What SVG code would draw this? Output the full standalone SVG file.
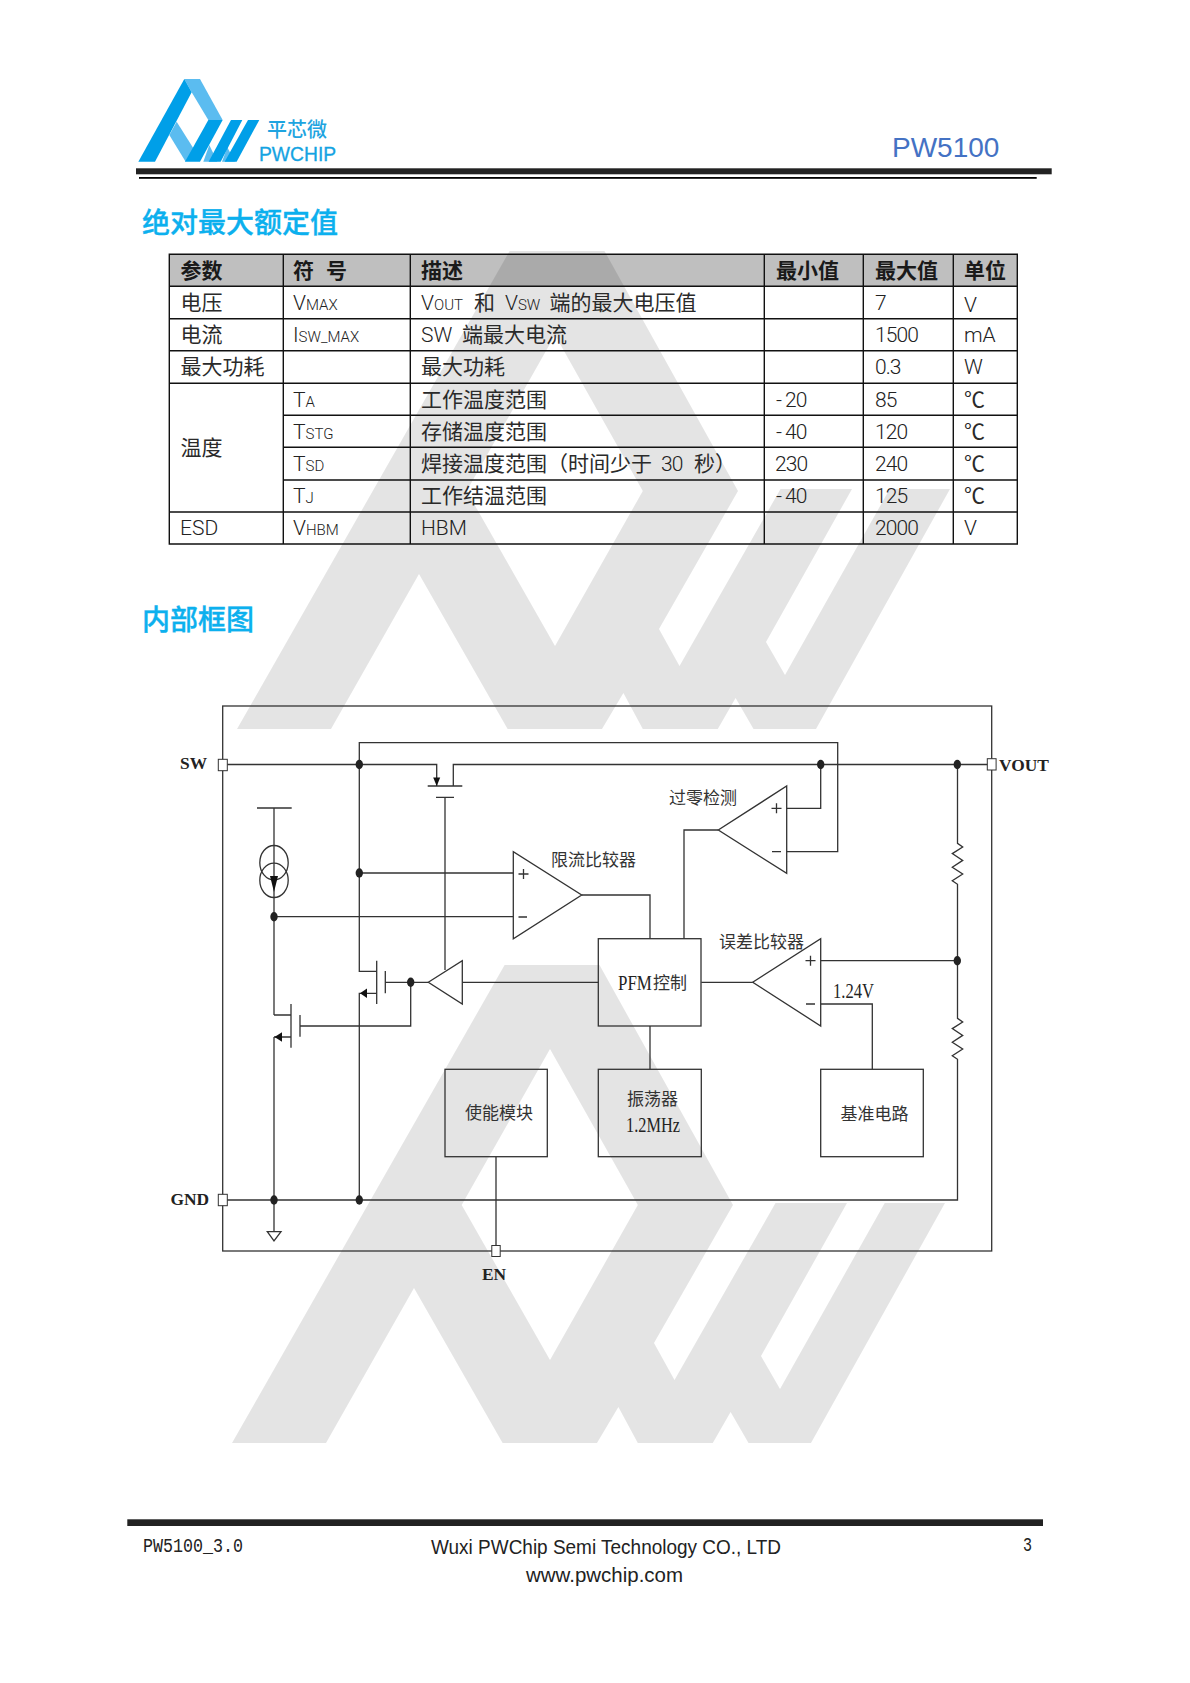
<svg xmlns="http://www.w3.org/2000/svg" xmlns:xlink="http://www.w3.org/1999/xlink" width="1190" height="1683" viewBox="0 0 1190 1683">
<style>
text{font-family:"Noto Sans CJK SC","Noto Sans",sans-serif;fill:#222}
.wm{fill:#000;fill-opacity:.105;fill-rule:evenodd}
.d{fill:#009fe8}.l{fill:#5bbcf0}
.h1{font-size:28px;font-weight:500;fill:#0cb0ee;stroke:#0cb0ee;stroke-width:.35}
.th{font-size:21px;font-weight:700;fill:#1a1a1a}
.td{font-size:21px;font-weight:400;fill:#2a2a2a}
.r{font-family:Roboto,"Liberation Sans",sans-serif;font-weight:300;font-size:21px;fill:#222}
.n{letter-spacing:-.9px}
.sm{font-size:15px}
.tl{stroke:#111;stroke-width:1.4;fill:none}
.w{stroke:#333;stroke-width:1.3;fill:none}
.box{stroke:#333;stroke-width:1.3;fill:none}
.pin{stroke:#333;stroke-width:1;fill:#fff}
.dot{fill:#222}
.ah{fill:#111}
.pl{font-family:"Liberation Serif",serif;font-weight:700;font-size:17.400px;fill:#222}
.cn{font-size:17px;font-weight:400;fill:#333}
.se{font-family:"Liberation Serif",serif;font-size:22px;fill:#222}
</style>
<defs><ellipse id="j" class="dot" rx="3.7" ry="4.7"/></defs>
<rect width="1190" height="1683" fill="#fff"/>
<rect x="169.3" y="254.3" width="848" height="32" fill="#bfbfbf"/>
<g id="watermark">
<path id="wm2" class="wm" d="M232 1443L504.6 965H599.5L733 1205L654 1343L674.5 1380L775.5 1203H847L761 1356L780 1389L884.7 1203H945L811 1443H748.5L730.6 1412L712.8 1443H637.8L618.4 1407L597 1443H502.6L414 1288L326 1443ZM550 1049L461.7 1205L550 1360L637.8 1205Z"/>
<path id="wm1" class="wm" transform="translate(5,-714)" d="M232 1443L504.6 965H599.5L733 1205L654 1343L674.5 1380L775.5 1203H847L761 1356L780 1389L884.7 1203H945L811 1443H748.5L730.6 1412L712.8 1443H637.8L618.4 1407L597 1443H502.6L414 1288L326 1443ZM550 1049L461.7 1205L550 1360L637.8 1205Z"/>
</g>
<g id="logo">
<g transform="translate(120,60) scale(.3333)">
<polygon class="l" points="193,57 240,57 308,180 265,180 215,97"/>
<polygon class="l" points="170,185 222,268 197,305 148,225"/>
<polygon class="l" points="268,255 292,305 250,305"/>
<polygon class="l" points="322,262 345,305 306,305"/>
<polygon class="d" points="55,305 193,57 215,97 105,305"/>
<polygon class="d" points="265,180 308,180 240,305 195,305"/>
<polygon class="d" points="333,180 367,180 302,305 266,305"/>
<polygon class="d" points="384,180 418,180 350,305 314,305"/>
</g>
<text x="267" y="137" style="font-size:20px;font-weight:500;fill:#1ea4e0">平芯微</text>
<text x="259" y="161" style="font-family:'Liberation Sans',sans-serif;font-size:19.3px;fill:#14a3e2;font-weight:400" stroke="#14a3e2" stroke-width=".3">PWCHIP</text>
</g>
<g id="header">
<rect x="136" y="168.3" width="915.7" height="6" fill="#222"/>
<rect x="139" y="177" width="897.7" height="1.8" fill="#000"/>
<text x="892" y="157" style="font-family:'Liberation Sans',sans-serif;font-size:28px;fill:#4472c4">PW5100</text>
</g>
<text id="title1" class="h1" x="142" y="233">绝对最大额定值</text>
<text id="title2" class="h1" x="142" y="630">内部框图</text>
<g id="table">
<path class="tl" d="M169.3 254.3H1017.3V544H169.3ZM169.3 286.3H1017.3M169.3 318.7H1017.3M169.3 350.7H1017.3M169.3 383.3H1017.3M283.3 415.3H1017.3M283.3 447.3H1017.3M283.3 480H1017.3M169.3 512H1017.3M283.3 254.3V544M410.3 254.3V544M764.3 254.3V544M863.3 254.3V544M953.3 254.3V544"/>
<g class="th">
<text class="th" x="180.500" y="277.500">参数</text><text class="th" x="293" y="277.500">符</text><text class="th" x="326" y="277.500">号</text><text class="th" x="421" y="277.500">描述</text><text class="th" x="776" y="277.500">最小值</text><text class="th" x="875" y="277.500">最大值</text><text class="th" x="964" y="277.500">单位</text>
</g>
<text class="td" x="180.500" y="310">电压</text>
<text class="r" x="293" y="310">V<tspan class="sm">MAX</tspan></text>
<text class="r" x="421" y="310">V<tspan class="sm">OUT</tspan></text><text class="td" x="474" y="310">和</text>
<text class="r" x="505" y="310">V<tspan class="sm">SW</tspan></text>
<text class="td" x="549.500" y="310">端的最大电压值</text>
<text class="r n" x="875" y="310">7</text><text class="r" x="964" y="311.500">V</text>
<text class="td" x="180.500" y="342">电流</text>
<text class="r" x="293" y="342">I<tspan class="sm">SW_MAX</tspan></text>
<text class="r" x="421" y="342">SW</text><text class="td" x="462" y="342">端最大电流</text>
<text class="r n" x="875" y="342">1500</text><text class="r" x="964" y="342">mA</text>
<text class="td" x="180.500" y="374">最大功耗</text><text class="td" x="421" y="374">最大功耗</text>
<text class="r n" x="875" y="374">0.3</text><text class="r" x="964" y="374">W</text>
<text class="td" x="180.500" y="455">温度</text>
<text class="r" x="293" y="407">T<tspan class="sm">A</tspan></text><text class="td" x="421" y="407">工作温度范围</text>
<text class="r n" x="776" y="407">-<tspan x="785">20</tspan></text><text class="r n" x="875" y="407">85</text><text class="td" x="964" y="407">℃</text>
<text class="r" x="293" y="439">T<tspan class="sm">STG</tspan></text><text class="td" x="421" y="439">存储温度范围</text>
<text class="r n" x="776" y="439">-<tspan x="785">40</tspan></text><text class="r n" x="875" y="439">120</text><text class="td" x="964" y="439">℃</text>
<text class="r" x="293" y="471">T<tspan class="sm">SD</tspan></text><text class="td" x="421" y="471">焊接温度范围</text><text class="td" x="547" y="471">（时间少于</text>
<text class="r n" x="661" y="471">30</text><text class="td" x="694" y="471">秒）</text>
<text class="r n" x="775" y="471">230</text><text class="r n" x="875" y="471">240</text><text class="td" x="964" y="471">℃</text>
<text class="r" x="293" y="503">T<tspan class="sm">J</tspan></text><text class="td" x="421" y="503">工作结温范围</text>
<text class="r n" x="776" y="503">-<tspan x="785">40</tspan></text><text class="r n" x="875" y="503">125</text><text class="td" x="964" y="503">℃</text>
<text class="r" x="180" y="535">ESD</text><text class="r" x="293" y="535">V<tspan class="sm">HBM</tspan></text><text class="r" x="421" y="535">HBM</text>
<text class="r n" x="875" y="535">2000</text><text class="r" x="964" y="535">V</text>
</g>
<g id="chip-frame"><rect class="box" x="222.700" y="706" width="769" height="545"/></g>
<g id="connectors">
<path class="w" d="M223 764.500H436.700V786M453.300 786V764.500H991.700"/>
<path class="w" d="M359.300 873V742.700H837.700V851.700H786.700"/>
<path class="w" d="M427.700 786H462.300M436 797.300H454M445 797.300V970"/>
<path class="w" d="M786.700 808.300H820.700V764.500"/>
<path class="w" d="M718.300 830H684V938.700"/>
<path class="w" d="M359.300 873H513.300M274 916.700H513.300"/>
<path class="w" d="M581.700 895H650V938.700"/>
<path class="w" d="M359.300 873V971.300H376.700M376.700 960.700V1004M385.300 971V993.300M385.300 982.300H428.300M462.300 982.300H598.300"/>
<path class="w" d="M410.700 982.300V1026H300M300 1015V1036.700M291 1004V1047.700M291 1015H274M291 1037H274"/>
<path class="w" d="M376.700 993.300H359.300V1200"/>
<path class="w" d="M257 808H291.700M274 808V916.700M274 1015V916.700M274 1037V1231.700"/>
<ellipse class="w" cx="274" cy="862.700" rx="14.200" ry="17.200"/>
<ellipse class="w" cx="274" cy="880.300" rx="14.200" ry="17.200"/>
<polygon class="ah" points="270,876 278,876 274,892"/>
<polygon class="ah" points="433.200,777.500 440.200,777.500 436.700,786"/>
<polygon class="ah" points="360,993.300 367,988.500 367,998"/>
<polygon class="ah" points="274.500,1037 282,1032.300 282,1041.700"/>
<path class="w" d="M267.300 1231.700H281L274 1241Z"/>
<path class="w" d="M701.300 982.300H752.700M820.700 960.700H957.300M820.700 1004H872.300V1069.300M650 1026V1069.300M496 1156.700V1251"/>
<path class="w" d="M223 1200H957.500V1059.300L952.300 1055.800L962.700 1049L952.300 1042.200L962.700 1035.400L952.300 1028.600L962.700 1022L957.500 1018.300V884.300L952.300 880.800L962.700 874L952.300 867.200L962.700 860.400L952.300 853.600L962.700 847L957.500 843.300V764.500"/>
<use href="#j" x="359.300" y="764.500"/><use href="#j" x="820.700" y="764.500"/><use href="#j" x="957.300" y="764.500"/>
<use href="#j" x="359.300" y="873"/><use href="#j" x="274" y="916.700"/><use href="#j" x="410.700" y="982.300"/>
<use href="#j" x="957.300" y="960.700"/><use href="#j" x="274" y="1200"/><use href="#j" x="359.300" y="1200"/>
</g>
<g id="buffer"><polygon class="w" points="428.300,982.300 462.300,960.700 462.300,1004"/></g>
<g id="comp-limit"><polygon class="w" points="513.300,851.700 513.300,938.700 581.700,895"/>
<path class="w" d="M518.500 874H528.500M523.500 869V879M518.500 917H527"/>
<text class="cn" x="551" y="866">限流比较器</text></g>
<g id="comp-zero"><polygon class="w" points="786.700,786 786.700,873.300 718.300,830"/>
<path class="w" d="M771.500 808.300H781.500M776.500 803.300V813.300M772 851.700H781"/>
<text class="cn" x="669" y="803.500">过零检测</text></g>
<g id="comp-error"><polygon class="w" points="820.700,938.700 820.700,1026 752.700,982.300"/>
<path class="w" d="M805.500 960.700H815.500M810.500 955.700V965.700M806 1004H815"/>
<text class="cn" x="719" y="948">误差比较器</text>
<text class="se" x="833" y="998" textLength="41" lengthAdjust="spacingAndGlyphs">1.24V</text></g>
<g id="pfm"><rect class="box" x="598.300" y="938.700" width="102.700" height="87.300"/>
<text class="se" transform="translate(618,990) scale(.77,1)">PFM</text><text class="cn" x="653" y="989">控制</text></g>
<g id="enable"><rect class="box" x="445" y="1069.300" width="102.300" height="87.400"/><text class="cn" x="465" y="1119">使能模块</text></g>
<g id="osc"><rect class="box" x="598.300" y="1069.300" width="103" height="87.400"/><text class="cn" x="627" y="1105">振荡器</text>
<text class="se" x="626" y="1132" textLength="54" lengthAdjust="spacingAndGlyphs">1.2MHz</text></g>
<g id="ref"><rect class="box" x="820.700" y="1069.300" width="102.600" height="87.400"/><text class="cn" x="840.500" y="1119.500">基准电路</text></g>
<g id="pin-sw"><rect class="pin" x="218.300" y="759.300" width="9" height="11.400"/><text class="pl" x="180" y="769">SW</text></g>
<g id="pin-vout"><rect class="pin" x="987.300" y="758.700" width="8.800" height="11.300"/><text class="pl" x="999" y="770.700">VOUT</text></g>
<g id="pin-gnd"><rect class="pin" x="218.300" y="1194.300" width="9" height="11.400"/><text class="pl" x="170.500" y="1205">GND</text></g>
<g id="pin-en"><rect class="pin" x="491.800" y="1245.500" width="8.400" height="11"/><text class="pl" x="482" y="1279.700">EN</text></g>
<g id="footer">
<rect x="127.300" y="1519.300" width="915.700" height="6.700" fill="#222"/>
<text x="143" y="1551.700" textLength="100" lengthAdjust="spacingAndGlyphs" style="font-family:'Liberation Mono',monospace;font-size:20px">PW5100_3.0</text>
<text x="431" y="1554" textLength="350" lengthAdjust="spacingAndGlyphs" style="font-family:'Liberation Sans',sans-serif;font-size:20px">Wuxi PWChip Semi Technology CO., LTD</text>
<text x="526" y="1582" textLength="157" lengthAdjust="spacingAndGlyphs" style="font-family:'Liberation Sans',sans-serif;font-size:20px">www.pwchip.com</text>
<text x="1023" y="1551" textLength="9" lengthAdjust="spacingAndGlyphs" style="font-family:'Liberation Mono',monospace;font-size:21px">3</text>
</g>
</svg>
